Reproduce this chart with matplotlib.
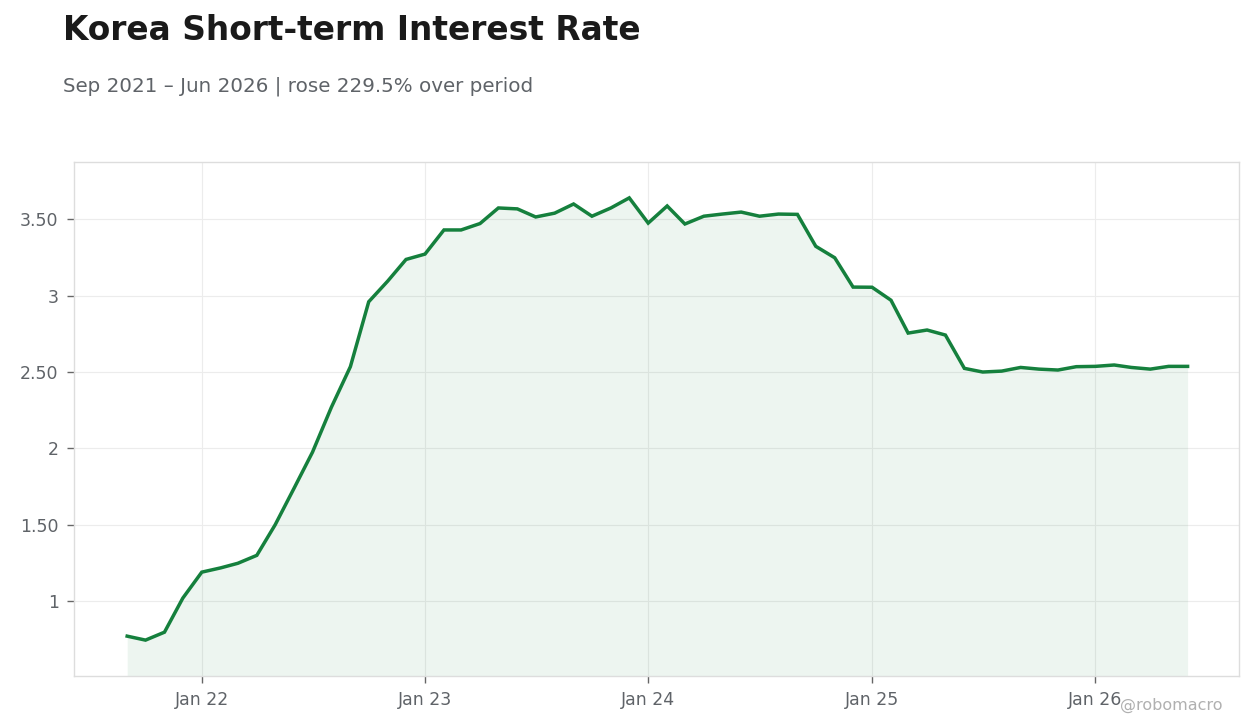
import matplotlib
matplotlib.use("Agg")
import matplotlib.pyplot as plt
import matplotlib.dates as mdates
import pandas as pd

# monthly short-term rate, Sep 2021 .. Jun 2026
months = pd.date_range("2021-09-01", "2026-06-01", freq="MS")
rates = [
    0.771, 0.745, 0.797, 1.02,                                                  # 2021 Sep-Dec
    1.19, 1.218, 1.248, 1.30, 1.50, 1.74, 1.975, 2.27, 2.535, 2.96, 3.095, 3.237,  # 2022
    3.272, 3.43, 3.43, 3.472, 3.574, 3.568, 3.515, 3.54, 3.60, 3.52, 3.574, 3.64,  # 2023
    3.475, 3.587, 3.469, 3.52, 3.534, 3.547, 3.52, 3.534, 3.532, 3.323, 3.248, 3.056,  # 2024
    3.055, 2.97, 2.755, 2.775, 2.742, 2.524, 2.50, 2.506, 2.53, 2.519, 2.513, 2.535,  # 2025
    2.537, 2.546, 2.53, 2.519, 2.537, 2.537,                                    # 2026 Jan-Jun
]
ytick_vals = [1, 1.5, 2, 2.5, 3, 3.5]
ytick_labels = ["1", "1.50", "2", "2.50", "3", "3.50"]

green = "#15803d"
grey_txt = "#5f6368"

fig = plt.figure(figsize=(12.6, 7.28), dpi=100)
ax = fig.add_axes([0.0587, 0.0714, 0.9246, 0.7061])

ax.plot(months, rates, color=green, lw=2.5, solid_joinstyle="miter", zorder=3)
ax.fill_between(months, rates, 0, color=green, alpha=0.075, lw=0, zorder=2)

ax.set_ylim(0.51, 3.875)
ax.set_xlim(pd.Timestamp("2021-06-06"), pd.Timestamp("2026-08-24"))

ax.set_yticks(ytick_vals)
ax.set_yticklabels(ytick_labels)
ax.xaxis.set_major_locator(mdates.YearLocator())
ax.xaxis.set_major_formatter(mdates.DateFormatter("Jan %y"))

ax.grid(True, color="#ececec", lw=0.8, zorder=0)
for s in ax.spines.values():
    s.set_color("#dddddd")
    s.set_linewidth(1)
ax.tick_params(axis="both", colors="#666666", labelcolor=grey_txt, labelsize=12.5,
               length=5, width=1)
ax.tick_params(axis="x", pad=6)
ax.tick_params(axis="y", pad=6)

fig.text(0.05, 0.945, "Korea Short-term Interest Rate", fontsize=23.7,
         fontweight="bold", color="#1a1a1a", va="baseline")
fig.text(0.05, 0.874, "Sep 2021 \u2013 Jun 2026 | rose 229.5% over period",
         fontsize=14.3, color=grey_txt, va="baseline")
fig.text(0.97, 0.025, "@robomacro", fontsize=11.5, color="#b0b0b0",
         ha="right", va="baseline")

fig.savefig("out.png", dpi=100)
